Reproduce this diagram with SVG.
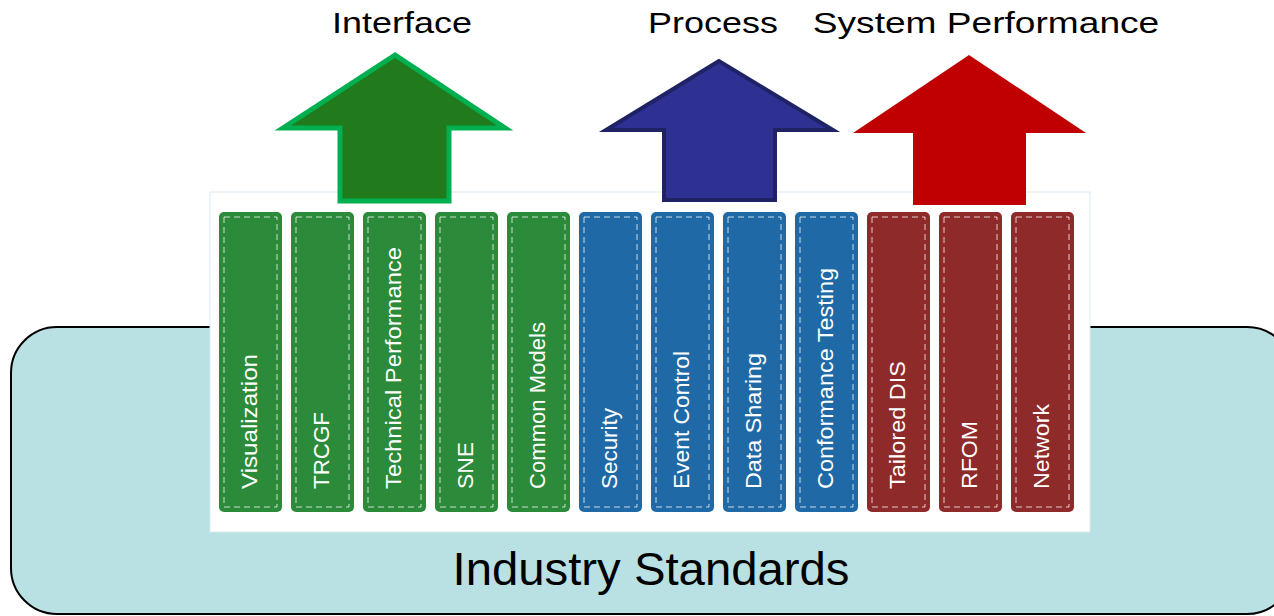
<svg xmlns="http://www.w3.org/2000/svg" width="1274" height="616" viewBox="0 0 1274 616">
  <style>
    .lbl { font-family: "Liberation Sans", Arial, sans-serif; fill: #000; }
    .top { font-size: 29px; text-anchor: middle; }
    .pill { stroke: none; }
    .g { fill: #2b8b3a; }
    .b { fill: #1f6aa6; }
    .r { fill: #8f2a2a; }
    .dash { fill: none; stroke: #ffffff; stroke-opacity: 0.75; stroke-width: 1; stroke-dasharray: 6 4; }
    .vt { font-family: "Liberation Sans", Arial, sans-serif; font-size: 22px; fill: #ffffff; }
  </style>
  <rect x="0" y="0" width="1274" height="616" fill="#ffffff"/>
  <g id="industry-standards">
    <rect x="11" y="327" width="1282" height="287" rx="46" ry="46" fill="#b9e0e3" stroke="#000" stroke-width="2"/>
    <text class="lbl" x="651" y="585" font-size="46" text-anchor="middle" textLength="397" lengthAdjust="spacingAndGlyphs">Industry Standards</text>
  </g>
  <g id="panel">
    <rect x="210" y="192" width="880" height="340" fill="#ffffff" stroke="#dde8f0" stroke-width="1"/>
  </g>
  <g id="arrows">
    <g id="arrow-interface">
      <polygon points="395,55 283,128 340,128 340,201 449,201 449,128 505,128" fill="#217a1b" stroke="#00b050" stroke-width="5" stroke-linejoin="miter"/>
      <text class="lbl top" transform="translate(402,33) scale(1.24,1)">Interface</text>
    </g>
    <g id="arrow-process">
      <polygon points="719,61 606,130 664,130 664,200 775,200 775,130 833,130" fill="#2e3192" stroke="#1f2264" stroke-width="4" stroke-linejoin="miter"/>
      <text class="lbl top" transform="translate(713,33) scale(1.24,1)">Process</text>
    </g>
    <g id="arrow-performance">
      <polygon points="969,55 853,133 913,133 913,205 1026,205 1026,133 1086,133" fill="#c00000"/>
      <text class="lbl top" transform="translate(986,33) scale(1.28,1)">System Performance</text>
    </g>
  </g>
  <g id="pillars">
    <g id="p-visualization"><rect class="pill g" x="219" y="212" width="63" height="300" rx="5"/><rect class="dash" x="224" y="217" width="53" height="290"/><text class="vt" transform="translate(257,489) rotate(-90)" textLength="135" lengthAdjust="spacingAndGlyphs">Visualization</text></g>
    <g id="p-trcgf"><rect class="pill g" x="291" y="212" width="63" height="300" rx="5"/><rect class="dash" x="296" y="217" width="53" height="290"/><text class="vt" transform="translate(329,489) rotate(-90)" textLength="77" lengthAdjust="spacingAndGlyphs">TRCGF</text></g>
    <g id="p-techperf"><rect class="pill g" x="363" y="212" width="63" height="300" rx="5"/><rect class="dash" x="368" y="217" width="53" height="290"/><text class="vt" transform="translate(401,489) rotate(-90)" textLength="242" lengthAdjust="spacingAndGlyphs">Technical Performance</text></g>
    <g id="p-sne"><rect class="pill g" x="435" y="212" width="63" height="300" rx="5"/><rect class="dash" x="440" y="217" width="53" height="290"/><text class="vt" transform="translate(473,489) rotate(-90)" textLength="47" lengthAdjust="spacingAndGlyphs">SNE</text></g>
    <g id="p-commonmodels"><rect class="pill g" x="507" y="212" width="63" height="300" rx="5"/><rect class="dash" x="512" y="217" width="53" height="290"/><text class="vt" transform="translate(545,489) rotate(-90)" textLength="167" lengthAdjust="spacingAndGlyphs">Common Models</text></g>
    <g id="p-security"><rect class="pill b" x="579" y="212" width="63" height="300" rx="5"/><rect class="dash" x="584" y="217" width="53" height="290"/><text class="vt" transform="translate(617,489) rotate(-90)" textLength="81" lengthAdjust="spacingAndGlyphs">Security</text></g>
    <g id="p-eventcontrol"><rect class="pill b" x="651" y="212" width="63" height="300" rx="5"/><rect class="dash" x="656" y="217" width="53" height="290"/><text class="vt" transform="translate(689,489) rotate(-90)" textLength="138" lengthAdjust="spacingAndGlyphs">Event Control</text></g>
    <g id="p-datasharing"><rect class="pill b" x="723" y="212" width="63" height="300" rx="5"/><rect class="dash" x="728" y="217" width="53" height="290"/><text class="vt" transform="translate(761,489) rotate(-90)" textLength="136" lengthAdjust="spacingAndGlyphs">Data Sharing</text></g>
    <g id="p-conformance"><rect class="pill b" x="795" y="212" width="63" height="300" rx="5"/><rect class="dash" x="800" y="217" width="53" height="290"/><text class="vt" transform="translate(833,489) rotate(-90)" textLength="221" lengthAdjust="spacingAndGlyphs">Conformance Testing</text></g>
    <g id="p-tailoreddis"><rect class="pill r" x="867" y="212" width="63" height="300" rx="5"/><rect class="dash" x="872" y="217" width="53" height="290"/><text class="vt" transform="translate(905,489) rotate(-90)" textLength="128" lengthAdjust="spacingAndGlyphs">Tailored DIS</text></g>
    <g id="p-rfom"><rect class="pill r" x="939" y="212" width="63" height="300" rx="5"/><rect class="dash" x="944" y="217" width="53" height="290"/><text class="vt" transform="translate(977,489) rotate(-90)" textLength="68" lengthAdjust="spacingAndGlyphs">RFOM</text></g>
    <g id="p-network"><rect class="pill r" x="1011" y="212" width="63" height="300" rx="5"/><rect class="dash" x="1016" y="217" width="53" height="290"/><text class="vt" transform="translate(1049,489) rotate(-90)" textLength="85" lengthAdjust="spacingAndGlyphs">Network</text></g>
  </g>
  <g id="connectors"></g>
</svg>
